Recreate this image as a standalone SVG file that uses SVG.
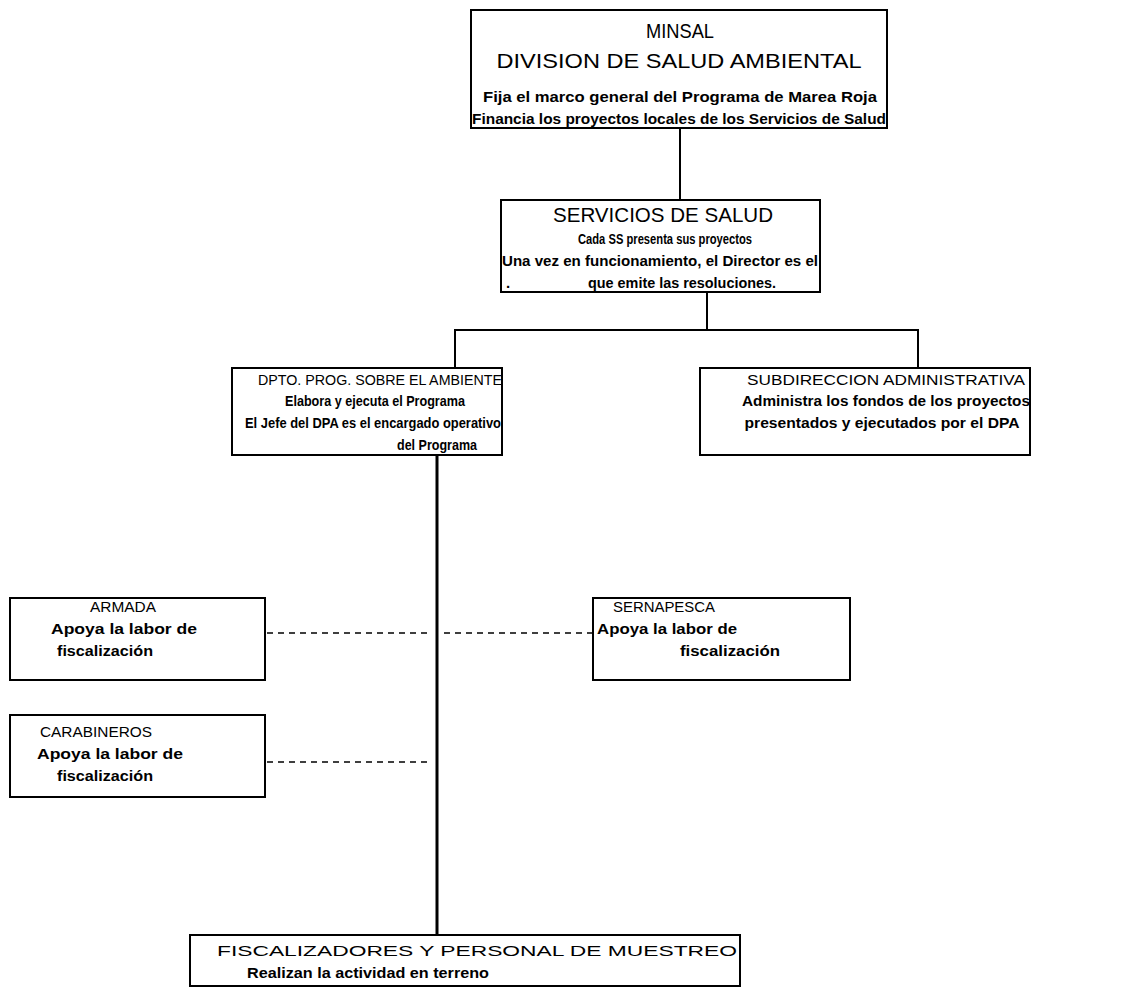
<svg xmlns="http://www.w3.org/2000/svg" width="1124" height="990" viewBox="0 0 1124 990">
<style>
.box{fill:#fff;stroke:#000;stroke-width:2}
.ln{fill:none;stroke:#000;stroke-width:2}
.main{fill:none;stroke:#000;stroke-width:3}
.dash{fill:none;stroke:#000;stroke-width:1.5;stroke-dasharray:6 5}
text{font-family:"Liberation Sans",Arial,sans-serif;fill:#000}
.h1{font-size:21px}
.h2{font-size:15px}
.b{font-size:15px;font-weight:bold}
</style>
<rect width="1124" height="990" fill="#fff"/>
<g id="connectors">
<line class="ln" x1="680" y1="128" x2="680" y2="200"/>
<line class="ln" x1="707" y1="292" x2="707" y2="330"/>
<polyline class="ln" points="455,368 455,330 918,330 918,368"/>
<line class="main" x1="437" y1="455" x2="437" y2="935"/>
<line class="dash" x1="267" y1="633" x2="430" y2="633"/>
<line class="dash" x1="444" y1="633" x2="592" y2="633"/>
<line class="dash" x1="267" y1="762" x2="430" y2="762"/>
</g>
<g id="minsal">
<rect class="box" x="471" y="10" width="416" height="118"/>
<text class="h1" x="680" y="38" text-anchor="middle" textLength="68" lengthAdjust="spacingAndGlyphs">MINSAL</text>
<text class="h1" x="679" y="68" text-anchor="middle" textLength="365" lengthAdjust="spacingAndGlyphs">DIVISION  DE  SALUD  AMBIENTAL</text>
<text class="b" x="680" y="102" text-anchor="middle" textLength="394" lengthAdjust="spacingAndGlyphs">Fija el marco general del Programa de Marea Roja</text>
<text class="b" x="679" y="124" text-anchor="middle" textLength="414" lengthAdjust="spacingAndGlyphs">Financia los proyectos locales de los Servicios de Salud</text>
</g>
<g id="servicios">
<rect class="box" x="501" y="200" width="319" height="92"/>
<text class="h1" x="663" y="222" text-anchor="middle" textLength="220" lengthAdjust="spacingAndGlyphs">SERVICIOS  DE  SALUD</text>
<text class="b" x="665" y="244" text-anchor="middle" textLength="174" lengthAdjust="spacingAndGlyphs">Cada SS presenta sus proyectos</text>
<text class="b" x="660" y="266" text-anchor="middle" textLength="316" lengthAdjust="spacingAndGlyphs">Una vez en funcionamiento, el Director es el</text>
<text class="b" x="506" y="288">.</text>
<text class="b" x="682" y="288" text-anchor="middle" textLength="188" lengthAdjust="spacingAndGlyphs">que emite las resoluciones.</text>
</g>
<g id="dpa">
<rect class="box" x="232" y="368" width="270" height="87"/>
<text class="h2" x="380" y="385" text-anchor="middle" textLength="244" lengthAdjust="spacingAndGlyphs">DPTO. PROG. SOBRE EL AMBIENTE</text>
<text class="b" x="375" y="406" text-anchor="middle" textLength="180" lengthAdjust="spacingAndGlyphs">Elabora y ejecuta el Programa</text>
<text class="b" x="373" y="428" text-anchor="middle" textLength="256" lengthAdjust="spacingAndGlyphs">El Jefe del DPA es el encargado operativo</text>
<text class="b" x="437" y="450" text-anchor="middle" textLength="80" lengthAdjust="spacingAndGlyphs">del Programa</text>
</g>
<g id="subdireccion">
<rect class="box" x="700" y="368" width="330" height="87"/>
<text class="h2" x="886" y="385" text-anchor="middle" textLength="278" lengthAdjust="spacingAndGlyphs">SUBDIRECCION ADMINISTRATIVA</text>
<text class="b" x="886" y="406" text-anchor="middle" textLength="288" lengthAdjust="spacingAndGlyphs">Administra los fondos de los proyectos</text>
<text class="b" x="882" y="428" text-anchor="middle" textLength="275" lengthAdjust="spacingAndGlyphs">presentados y ejecutados por el DPA</text>
</g>
<g id="armada">
<rect class="box" x="10" y="598" width="255" height="82"/>
<text class="h2" x="123" y="612" text-anchor="middle" textLength="66" lengthAdjust="spacingAndGlyphs">ARMADA</text>
<text class="b" x="124" y="634" text-anchor="middle" textLength="146" lengthAdjust="spacingAndGlyphs">Apoya la labor de</text>
<text class="b" x="105" y="656" text-anchor="middle" textLength="96" lengthAdjust="spacingAndGlyphs">fiscalización</text>
</g>
<g id="sernapesca">
<rect class="box" x="593" y="598" width="257" height="82"/>
<text class="h2" x="664" y="612" text-anchor="middle" textLength="102" lengthAdjust="spacingAndGlyphs">SERNAPESCA</text>
<text class="b" x="667" y="634" text-anchor="middle" textLength="140" lengthAdjust="spacingAndGlyphs">Apoya la labor de</text>
<text class="b" x="730" y="656" text-anchor="middle" textLength="100" lengthAdjust="spacingAndGlyphs">fiscalización</text>
</g>
<g id="carabineros">
<rect class="box" x="10" y="715" width="255" height="82"/>
<text class="h2" x="96" y="737" text-anchor="middle" textLength="112" lengthAdjust="spacingAndGlyphs">CARABINEROS</text>
<text class="b" x="110" y="759" text-anchor="middle" textLength="146" lengthAdjust="spacingAndGlyphs">Apoya la labor de</text>
<text class="b" x="105" y="781" text-anchor="middle" textLength="96" lengthAdjust="spacingAndGlyphs">fiscalización</text>
</g>
<g id="fiscalizadores">
<rect class="box" x="190" y="935" width="550" height="51"/>
<text class="h2" x="477" y="956" text-anchor="middle" textLength="520" lengthAdjust="spacingAndGlyphs">FISCALIZADORES Y PERSONAL DE MUESTREO</text>
<text class="b" x="368" y="978" text-anchor="middle" textLength="242" lengthAdjust="spacingAndGlyphs">Realizan la actividad en terreno</text>
</g>
</svg>
